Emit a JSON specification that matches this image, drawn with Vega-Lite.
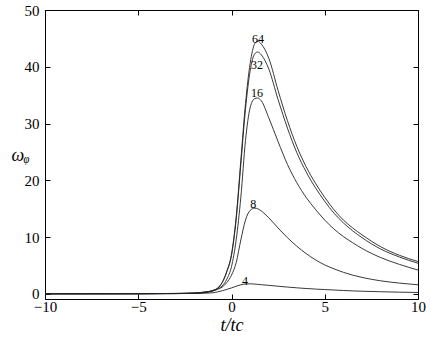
{
  "$schema": "https://vega.github.io/schema/vega-lite/v6.json",
  "width": 373,
  "height": 289,
  "autosize": "none",
  "padding": {"left": 45, "top": 10, "right": 13, "bottom": 43},
  "background": "white",
  "config": {
    "view": {"stroke": "black", "strokeWidth": 1},
    "font": "Liberation Serif",
    "axis": {
      "labelFont": "Liberation Serif",
      "titleFont": "Liberation Serif",
      "labelFontSize": 15,
      "labelColor": "black",
      "domain": false,
      "ticks": true,
      "tickColor": "black",
      "tickWidth": 1,
      "grid": false,
      "tickSize": 5,
      "titleFontWeight": "normal",
      "titleColor": "black"
    }
  },
  "datasets": {
    "curves": [
      {"n": "64", "t": -10, "w": 0.02}, {"n": "64", "t": -5, "w": 0.03}, {"n": "64", "t": -3, "w": 0.08}, {"n": "64", "t": -2, "w": 0.15}, {"n": "64", "t": -1.5, "w": 0.3}, {"n": "64", "t": -1, "w": 0.6}, {"n": "64", "t": -0.75, "w": 1.0}, {"n": "64", "t": -0.5, "w": 2.0}, {"n": "64", "t": -0.25, "w": 4.0}, {"n": "64", "t": 0, "w": 7.0}, {"n": "64", "t": 0.25, "w": 13.5}, {"n": "64", "t": 0.5, "w": 23.5}, {"n": "64", "t": 0.75, "w": 33.5}, {"n": "64", "t": 1, "w": 40.6}, {"n": "64", "t": 1.25, "w": 44.1}, {"n": "64", "t": 1.4, "w": 44.5}, {"n": "64", "t": 1.6, "w": 44.0}, {"n": "64", "t": 2, "w": 41.5}, {"n": "64", "t": 2.5, "w": 35.8}, {"n": "64", "t": 3, "w": 30.5}, {"n": "64", "t": 3.5, "w": 26.0}, {"n": "64", "t": 4, "w": 22.4}, {"n": "64", "t": 4.5, "w": 19.5}, {"n": "64", "t": 5, "w": 17.0}, {"n": "64", "t": 5.5, "w": 14.8}, {"n": "64", "t": 6, "w": 13.0}, {"n": "64", "t": 6.5, "w": 11.6}, {"n": "64", "t": 7, "w": 10.4}, {"n": "64", "t": 8, "w": 8.3}, {"n": "64", "t": 9, "w": 6.8}, {"n": "64", "t": 10, "w": 5.7},
      {"n": "32", "t": -10, "w": 0.02}, {"n": "32", "t": -5, "w": 0.03}, {"n": "32", "t": -3, "w": 0.08}, {"n": "32", "t": -2, "w": 0.15}, {"n": "32", "t": -1.5, "w": 0.3}, {"n": "32", "t": -1, "w": 0.6}, {"n": "32", "t": -0.75, "w": 1.0}, {"n": "32", "t": -0.5, "w": 2.0}, {"n": "32", "t": -0.25, "w": 3.9}, {"n": "32", "t": 0, "w": 6.8}, {"n": "32", "t": 0.25, "w": 13.1}, {"n": "32", "t": 0.5, "w": 22.8}, {"n": "32", "t": 0.75, "w": 32.5}, {"n": "32", "t": 1, "w": 39.3}, {"n": "32", "t": 1.25, "w": 42.3}, {"n": "32", "t": 1.4, "w": 42.6}, {"n": "32", "t": 1.6, "w": 42.1}, {"n": "32", "t": 2, "w": 39.6}, {"n": "32", "t": 2.5, "w": 34.2}, {"n": "32", "t": 3, "w": 29.2}, {"n": "32", "t": 3.5, "w": 24.9}, {"n": "32", "t": 4, "w": 21.5}, {"n": "32", "t": 4.5, "w": 18.7}, {"n": "32", "t": 5, "w": 16.3}, {"n": "32", "t": 5.5, "w": 14.2}, {"n": "32", "t": 6, "w": 12.5}, {"n": "32", "t": 6.5, "w": 11.1}, {"n": "32", "t": 7, "w": 9.9}, {"n": "32", "t": 8, "w": 7.9}, {"n": "32", "t": 9, "w": 6.5}, {"n": "32", "t": 10, "w": 5.4},
      {"n": "16", "t": -10, "w": 0.02}, {"n": "16", "t": -5, "w": 0.03}, {"n": "16", "t": -3, "w": 0.06}, {"n": "16", "t": -2, "w": 0.12}, {"n": "16", "t": -1.5, "w": 0.25}, {"n": "16", "t": -1, "w": 0.55}, {"n": "16", "t": -0.75, "w": 0.9}, {"n": "16", "t": -0.5, "w": 1.4}, {"n": "16", "t": -0.25, "w": 2.6}, {"n": "16", "t": 0, "w": 4.8}, {"n": "16", "t": 0.25, "w": 9.5}, {"n": "16", "t": 0.5, "w": 17.0}, {"n": "16", "t": 0.75, "w": 27.0}, {"n": "16", "t": 1, "w": 32.8}, {"n": "16", "t": 1.25, "w": 34.4}, {"n": "16", "t": 1.4, "w": 34.5}, {"n": "16", "t": 1.6, "w": 34.0}, {"n": "16", "t": 2, "w": 31.0}, {"n": "16", "t": 2.5, "w": 26.8}, {"n": "16", "t": 3, "w": 22.8}, {"n": "16", "t": 3.5, "w": 19.6}, {"n": "16", "t": 4, "w": 17.0}, {"n": "16", "t": 4.5, "w": 14.9}, {"n": "16", "t": 5, "w": 13.0}, {"n": "16", "t": 5.5, "w": 11.4}, {"n": "16", "t": 6, "w": 10.1}, {"n": "16", "t": 6.5, "w": 9.0}, {"n": "16", "t": 7, "w": 8.0}, {"n": "16", "t": 8, "w": 6.4}, {"n": "16", "t": 9, "w": 5.2}, {"n": "16", "t": 10, "w": 4.2},
      {"n": "8", "t": -10, "w": 0.02}, {"n": "8", "t": -5, "w": 0.03}, {"n": "8", "t": -3, "w": 0.05}, {"n": "8", "t": -2, "w": 0.1}, {"n": "8", "t": -1.5, "w": 0.2}, {"n": "8", "t": -1, "w": 0.5}, {"n": "8", "t": -0.75, "w": 0.8}, {"n": "8", "t": -0.5, "w": 1.2}, {"n": "8", "t": -0.25, "w": 2.0}, {"n": "8", "t": 0, "w": 3.3}, {"n": "8", "t": 0.25, "w": 5.5}, {"n": "8", "t": 0.5, "w": 9.5}, {"n": "8", "t": 0.75, "w": 13.0}, {"n": "8", "t": 1, "w": 14.7}, {"n": "8", "t": 1.25, "w": 15.1}, {"n": "8", "t": 1.4, "w": 15.0}, {"n": "8", "t": 1.6, "w": 14.6}, {"n": "8", "t": 2, "w": 13.4}, {"n": "8", "t": 2.5, "w": 11.6}, {"n": "8", "t": 3, "w": 9.9}, {"n": "8", "t": 3.5, "w": 8.4}, {"n": "8", "t": 4, "w": 7.1}, {"n": "8", "t": 4.5, "w": 6.0}, {"n": "8", "t": 5, "w": 5.1}, {"n": "8", "t": 5.5, "w": 4.4}, {"n": "8", "t": 6, "w": 3.8}, {"n": "8", "t": 6.5, "w": 3.3}, {"n": "8", "t": 7, "w": 2.9}, {"n": "8", "t": 8, "w": 2.3}, {"n": "8", "t": 9, "w": 1.9}, {"n": "8", "t": 10, "w": 1.6},
      {"n": "4", "t": -10, "w": 0.02}, {"n": "4", "t": -5, "w": 0.03}, {"n": "4", "t": -3, "w": 0.05}, {"n": "4", "t": -2, "w": 0.08}, {"n": "4", "t": -1.5, "w": 0.12}, {"n": "4", "t": -1, "w": 0.2}, {"n": "4", "t": -0.75, "w": 0.35}, {"n": "4", "t": -0.5, "w": 0.55}, {"n": "4", "t": -0.25, "w": 0.8}, {"n": "4", "t": 0, "w": 1.05}, {"n": "4", "t": 0.25, "w": 1.35}, {"n": "4", "t": 0.5, "w": 1.6}, {"n": "4", "t": 0.75, "w": 1.75}, {"n": "4", "t": 1, "w": 1.78}, {"n": "4", "t": 1.25, "w": 1.72}, {"n": "4", "t": 1.4, "w": 1.68}, {"n": "4", "t": 1.6, "w": 1.62}, {"n": "4", "t": 2, "w": 1.5}, {"n": "4", "t": 2.5, "w": 1.35}, {"n": "4", "t": 3, "w": 1.2}, {"n": "4", "t": 3.5, "w": 1.07}, {"n": "4", "t": 4, "w": 0.95}, {"n": "4", "t": 4.5, "w": 0.85}, {"n": "4", "t": 5, "w": 0.76}, {"n": "4", "t": 5.5, "w": 0.68}, {"n": "4", "t": 6, "w": 0.6}, {"n": "4", "t": 6.5, "w": 0.53}, {"n": "4", "t": 7, "w": 0.47}, {"n": "4", "t": 8, "w": 0.38}, {"n": "4", "t": 9, "w": 0.3}, {"n": "4", "t": 10, "w": 0.25}
    ],
    "labels": [
      {"n": "64", "t": 1.42, "w": 44.9},
      {"n": "32", "t": 1.37, "w": 40.3},
      {"n": "16", "t": 1.37, "w": 35.3},
      {"n": "8", "t": 1.17, "w": 15.8},
      {"n": "4", "t": 0.72, "w": 2.3}
    ]
  },
  "layer": [
    {
      "data": {"name": "curves"},
      "mark": {"type": "line", "color": "#222222", "strokeWidth": 0.9, "interpolate": "monotone", "clip": true},
      "encoding": {
        "x": {"field": "t", "type": "quantitative", "scale": {"domain": [-10, 10], "nice": false, "zero": false},
              "axis": {"orient": "top", "offset": -289, "values": [-10, -5, 0, 5, 10], "title": "t/tc", "titleFontSize": 18, "titleFontStyle": "italic", "titleAngle": 0, "titleX": 186.5, "titleY": 26, "titleAlign": "center", "titleBaseline": "middle", "labelPadding": -20, "labelBaseline": "bottom", "labelFlush": false}},
        "y": {"field": "w", "type": "quantitative", "scale": {"domain": [-0.9, 50], "nice": false, "zero": false},
              "axis": {"orient": "right", "offset": -373, "values": [0, 10, 20, 30, 40, 50], "title": "ωᵩ", "titleFontSize": 18, "titleFontStyle": "italic", "titleAngle": 0, "titleX": -25, "titleY": 145, "titleAlign": "center", "titleBaseline": "middle", "labelPadding": -11, "labelAlign": "right", "labelBaseline": "middle", "labelFlush": false}},
        "detail": {"field": "n"}
      }
    },
    {
      "data": {"name": "labels"},
      "mark": {"type": "point", "opacity": 0},
      "encoding": {
        "x": {"field": "t", "type": "quantitative", "axis": {"orient": "bottom", "offset": -289, "values": [-10, -5, 0, 5, 10], "labels": false, "title": null}},
        "y": {"field": "w", "type": "quantitative", "axis": {"orient": "left", "offset": -373, "values": [0, 10, 20, 30, 40, 50], "labels": false, "title": null}}
      }
    },
    {
      "data": {"name": "labels"},
      "mark": {"type": "text", "font": "Liberation Serif", "fontSize": 12, "fill": "black", "baseline": "middle", "align": "center"},
      "encoding": {
        "x": {"field": "t", "type": "quantitative", "axis": null},
        "y": {"field": "w", "type": "quantitative", "axis": null},
        "text": {"field": "n"}
      }
    }
  ],
  "resolve": {"axis": {"x": "independent", "y": "independent"}}
}
